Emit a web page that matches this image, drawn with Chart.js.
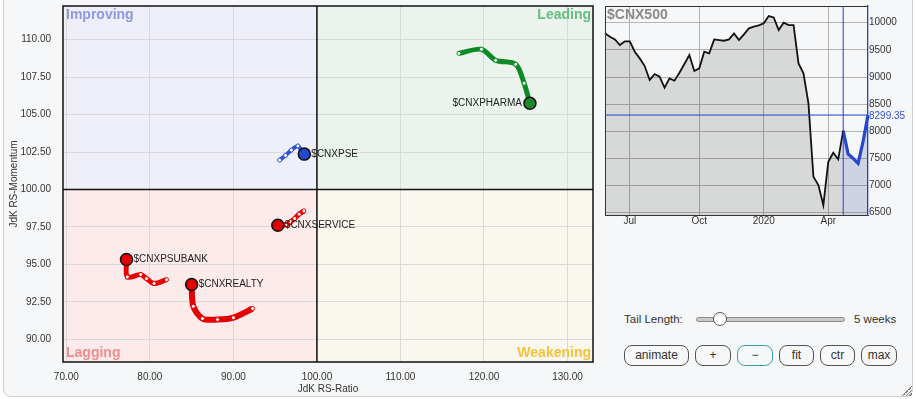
<!DOCTYPE html>
<html>
<head>
<meta charset="utf-8">
<script src="https://cdn.jsdelivr.net/npm/chart.js@4.4.1/dist/chart.umd.min.js"></script>
<style>
  html, body { margin: 0; padding: 0; background: #fff; }
  body { width: 916px; height: 399px; position: relative; overflow: hidden; font-family: "Liberation Sans", Arial, sans-serif; color: #333; }
  #panel { position: absolute; left: 3px; top: -12px; width: 908px; height: 407px; border: 1px solid #cdd1d4; border-radius: 8px; background: #f5f7f8; }
  canvas { position: absolute; }
  #rrg { left: 0; top: 0; }
  #price { left: 600px; top: 0; }
  .txt { position: absolute; font-size: 11.5px; line-height: 14px; color: #333; }
  .track { position: absolute; left: 696px; top: 317px; width: 147px; height: 3px; background: #c9c9c9; border: 1px solid #8a8a8a; border-radius: 3px; }
  .thumb { position: absolute; left: 713px; top: 312px; width: 12px; height: 12px; background: #fff; border: 1px solid #555; border-radius: 50%; }
  .btn { position: absolute; top: 345px; height: 19px; line-height: 19px; border: 1px solid #555; border-radius: 8px; text-align: center; font-size: 12px; color: #333; background: #f5f7f8; }
  .grip { position: absolute; left: 902px; top: 386px; width: 10px; height: 10px;
    background: linear-gradient(135deg, transparent 0 48%, #777 48% 55%, transparent 55% 66%, #777 66% 73%, transparent 73% 84%, #777 84% 91%, transparent 91%); }
</style>
</head>
<body>
<div id="panel"></div>
<canvas id="rrg" width="600" height="399"></canvas>
<canvas id="price" width="316" height="230"></canvas>

<div class="txt" style="left:624px;top:312px">Tail Length:</div>
<div class="track"></div>
<div class="thumb"></div>
<div class="txt" style="left:854px;top:312px">5 weeks</div>

<div class="btn" style="left:624px;width:63px">animate</div>
<div class="btn" style="left:695px;width:34px">+</div>
<div class="btn" style="left:737px;width:34px;border-color:#3b9db6">−</div>
<div class="btn" style="left:779px;width:33px">fit</div>
<div class="btn" style="left:820px;width:33px">ctr</div>
<div class="btn" style="left:861px;width:34px">max</div>
<div class="grip"></div>

<script>
// RRG tails (oldest -> latest), JdK RS-Ratio / RS-Momentum
const sectorNames = ['$CNXPHARMA', '$CNXPSE', '$CNXSERVICE', '$CNXPSUBANK', '$CNXREALTY'];
const pharmaRatio = [117.0, 119.7, 121.4, 123.8, 124.8, 125.5];
const pharmaMomentum = [109.09, 109.36, 108.62, 108.36, 107.09, 105.75];
const pseRatio = [95.53, 96.24, 96.93, 97.72, 98.11, 98.49];
const pseMomentum = [101.96, 102.27, 102.63, 102.91, 102.63, 102.36];
const serviceRatio = [98.44, 97.87, 97.33, 96.85, 96.40, 95.32];
const serviceMomentum = [98.57, 98.35, 98.06, 97.85, 97.66, 97.61];
const psubankRatio = [82.0, 80.5, 79.6, 78.9, 77.3, 77.2];
const psubankMomentum = [93.98, 93.72, 94.05, 94.32, 94.16, 95.32];
const realtyRatio = [92.3, 90.0, 88.1, 86.3, 85.2, 85.0];
const realtyMomentum = [92.05, 91.44, 91.31, 91.38, 92.2, 93.65];

const ratioTicks = [70, 80, 90, 100, 110, 120, 130];
const momentumTicks = [90, 92.5, 95, 97.5, 100, 102.5, 105, 107.5, 110];

// $CNX500 weekly closes
const cnx500Close = [9804, 9742, 9693, 9589, 9656, 9656, 9466, 9343, 9202, 8944,
  9054, 9005, 8803, 8975, 8932, 9079, 9239, 9404, 9110, 9159,
  9466, 9435, 9693, 9681, 9668, 9693, 9804, 9681, 9785, 9896,
  9926, 9951, 9988, 10123, 10098, 9865, 10000, 9957, 9957, 9251,
  9067, 8514, 7163, 7010, 6641, 7440, 7605, 7483, 8011, 7581,
  7501, 7409, 7808, 8299.35];
const priceTicks = [6500, 7000, 7500, 8000, 8500, 9000, 9500, 10000];
const quarterLabels = ['Jul', 'Oct', '2020', 'Apr'];
const quarterWeeks = [5, 19, 32, 45];
const tailWeeks = 5;

const family = "'Liberation Sans', Arial, sans-serif";
Chart.defaults.font.family = family;

function tail(ratio, momentum) {
  return ratio.map((r, i) => ({ x: r, y: momentum[i] }));
}

function sector(name, points, color, head, side, width) {
  const last = points.length - 1;
  return {
    label: name,
    data: points,
    showLine: true,
    tension: 0.3,
    borderColor: color,
    borderWidth: width,
    labelSide: side,
    pointRadius: c => c.dataIndex === last ? 6 : 2,
    pointBackgroundColor: c => c.dataIndex === last ? head : '#fff',
    pointBorderColor: c => c.dataIndex === last ? '#111' : color,
    pointBorderWidth: c => c.dataIndex === last ? 1.5 : 1
  };
}

// keep the plot box where the layout padding puts it
function noScalePadding(s) {
  s.paddingTop = 0; s.paddingBottom = 0; s.paddingLeft = 0; s.paddingRight = 0;
}

const quadrants = {
  id: 'quadrants',
  beforeDraw(chart) {
    const { ctx, chartArea: a, scales: { x, y } } = chart;
    const cx = x.getPixelForValue(100), cy = y.getPixelForValue(100);
    ctx.save();
    ctx.fillStyle = '#eeeff9'; ctx.fillRect(a.left, a.top, cx - a.left, cy - a.top);
    ctx.fillStyle = '#eaf4ed'; ctx.fillRect(cx, a.top, a.right - cx, cy - a.top);
    ctx.fillStyle = '#fdeaea'; ctx.fillRect(a.left, cy, cx - a.left, a.bottom - cy);
    ctx.fillStyle = '#faf8ee'; ctx.fillRect(cx, cy, a.right - cx, a.bottom - cy);
    ctx.restore();
  },
  beforeDatasetsDraw(chart) {
    const { ctx, chartArea: a, scales: { x, y } } = chart;
    const cx = x.getPixelForValue(100), cy = y.getPixelForValue(100);
    ctx.save();
    ctx.font = 'bold 14px ' + family;
    ctx.textBaseline = 'middle';
    ctx.textAlign = 'left';
    ctx.fillStyle = '#8c9ae0'; ctx.fillText('Improving', a.left + 3, a.top + 9);
    ctx.fillStyle = '#f08d8d'; ctx.fillText('Lagging', a.left + 3, a.bottom - 9);
    ctx.textAlign = 'right';
    ctx.fillStyle = '#69bd82'; ctx.fillText('Leading', a.right - 2, a.top + 9);
    ctx.fillStyle = '#f5c23a'; ctx.fillText('Weakening', a.right - 2, a.bottom - 9);

    ctx.strokeStyle = '#111';
    ctx.lineWidth = 1.5;
    ctx.beginPath();
    ctx.moveTo(cx, a.top); ctx.lineTo(cx, a.bottom);
    ctx.moveTo(a.left, cy); ctx.lineTo(a.right, cy);
    ctx.stroke();
    ctx.strokeRect(a.left, a.top, a.right - a.left, a.bottom - a.top);
    ctx.restore();
  },
  afterDatasetsDraw(chart) {
    const { ctx } = chart;
    ctx.save();
    ctx.font = '10px ' + family;
    ctx.fillStyle = '#222';
    ctx.textBaseline = 'middle';
    chart.data.datasets.forEach((ds, i) => {
      const pts = chart.getDatasetMeta(i).data;
      const p = pts[pts.length - 1];
      if (ds.labelSide === 'left') {
        ctx.textAlign = 'right';
        ctx.fillText(ds.label, p.x - 8, p.y);
      } else {
        ctx.textAlign = 'left';
        ctx.fillText(ds.label, p.x + 7, p.y);
      }
    });
    ctx.restore();
  }
};

new Chart(document.getElementById('rrg'), {
  type: 'scatter',
  data: {
    datasets: [
      sector(sectorNames[0], tail(pharmaRatio, pharmaMomentum), '#0c8a26', '#1b8a2e', 'left', 5),
      sector(sectorNames[1], tail(pseRatio, pseMomentum), '#2d52d8', '#2148cf', 'right', 4),
      sector(sectorNames[2], tail(serviceRatio, serviceMomentum), '#e60000', '#e30000', 'right', 5),
      sector(sectorNames[3], tail(psubankRatio, psubankMomentum), '#e60000', '#e30000', 'right', 5),
      sector(sectorNames[4], tail(realtyRatio, realtyMomentum), '#e60000', '#e30000', 'right', 6)
    ]
  },
  options: {
    responsive: false,
    animation: false,
    layout: { autoPadding: false, padding: { top: 6, right: 7, left: 0, bottom: 0 } },
    plugins: { legend: { display: false }, tooltip: { enabled: false } },
    scales: {
      x: {
        type: 'linear',
        min: 69.6,
        max: 133.05,
        afterBuildTicks: s => { s.ticks = ratioTicks.map(v => ({ value: v })); },
        afterFit: s => { s.height = 37; noScalePadding(s); },
        grid: { color: '#d9d9d9', drawTicks: false },
        border: { display: false },
        ticks: { padding: 9, autoSkip: false, maxRotation: 0, color: '#333', font: { size: 10 }, callback: v => v.toFixed(2) },
        title: { display: true, text: 'JdK RS-Ratio', color: '#333', font: { size: 10 }, padding: { top: 0, bottom: 4 } }
      },
      y: {
        type: 'linear',
        min: 88.48,
        max: 112.25,
        afterBuildTicks: s => { s.ticks = momentumTicks.map(v => ({ value: v })); },
        afterFit: s => { s.width = 63; noScalePadding(s); },
        grid: { color: '#d9d9d9', drawTicks: false },
        border: { display: false },
        ticks: { padding: 12, autoSkip: false, color: '#333', font: { size: 10 }, callback: v => v.toFixed(2) },
        title: { display: true, text: 'JdK RS-Momentum', color: '#333', font: { size: 10 }, padding: { top: 8, bottom: 0 } }
      }
    }
  },
  plugins: [quadrants]
});

// price panel
const startTail = cnx500Close.length - 1 - tailWeeks;
const histLine = cnx500Close.map((v, i) => i <= startTail ? v : null);
const tailLine = cnx500Close.map((v, i) => i >= startTail ? v : null);
const weekIndex = cnx500Close.map((v, i) => i);
const lastClose = cnx500Close[cnx500Close.length - 1];

const priceMarks = {
  id: 'priceMarks',
  afterDatasetsDraw(chart) {
    const { ctx, chartArea: a, scales: { x, y } } = chart;
    const vx = x.getPixelForValue(startTail);
    const hy = y.getPixelForValue(lastClose);
    ctx.save();
    ctx.strokeStyle = '#333';
    ctx.lineWidth = 1;
    ctx.beginPath();
    ctx.moveTo(a.left + 0.5, a.bottom); ctx.lineTo(a.left + 0.5, a.top + 0.5); ctx.lineTo(a.right, a.top + 0.5);
    ctx.stroke();
    ctx.strokeStyle = '#2a40c4';
    ctx.beginPath();
    ctx.moveTo(vx, a.top); ctx.lineTo(vx, a.bottom);
    ctx.moveTo(a.left, hy); ctx.lineTo(a.right, hy);
    ctx.stroke();
    ctx.font = 'bold 14px ' + family;
    ctx.fillStyle = '#8a8a8a';
    ctx.textBaseline = 'middle';
    ctx.fillText('$CNX500', a.left + 2, a.top + 9);
    ctx.font = '10px ' + family;
    ctx.fillStyle = '#3552d4';
    ctx.fillText(lastClose.toFixed(2), a.right + 1, hy + 1);
    ctx.restore();
  }
};

new Chart(document.getElementById('price'), {
  type: 'line',
  data: {
    labels: weekIndex,
    datasets: [
      { data: histLine, borderColor: '#111', borderWidth: 1.8, fill: 'start', backgroundColor: 'rgba(0,0,0,0.12)', pointRadius: 0, tension: 0 },
      { data: tailLine, borderColor: '#2747d2', borderWidth: 3.2, fill: 'start', backgroundColor: 'rgba(30,50,130,0.18)', pointRadius: 0, tension: 0 }
    ]
  },
  options: {
    responsive: false,
    animation: false,
    layout: { autoPadding: false, padding: { left: 5, top: 6, right: 0, bottom: 0 } },
    plugins: { legend: { display: false }, tooltip: { enabled: false } },
    scales: {
      x: {
        type: 'category',
        offset: false,
        afterFit: s => { s.height = 15; noScalePadding(s); },
        grid: { drawTicks: false, color: c => quarterWeeks.includes(c.index) ? '#b0b0b0' : 'rgba(0,0,0,0)' },
        border: { color: '#333' },
        ticks: {
          autoSkip: false, maxRotation: 0, padding: 0, color: '#333', font: { size: 10 },
          callback: (v, i) => { const k = quarterWeeks.indexOf(i); return k >= 0 ? quarterLabels[k] : ''; }
        }
      },
      y: {
        position: 'right',
        min: 6458,
        max: 10308,
        afterBuildTicks: s => { s.ticks = priceTicks.map(v => ({ value: v })); },
        afterFit: s => { s.width = 48; noScalePadding(s); },
        grid: { color: '#b5b5b5', drawTicks: false },
        border: { color: '#2a40c4', width: 1.3 },
        ticks: { padding: 1, color: '#333', font: { size: 10 }, callback: v => String(v) }
      }
    }
  },
  plugins: [priceMarks]
});
</script>
</body>
</html>
